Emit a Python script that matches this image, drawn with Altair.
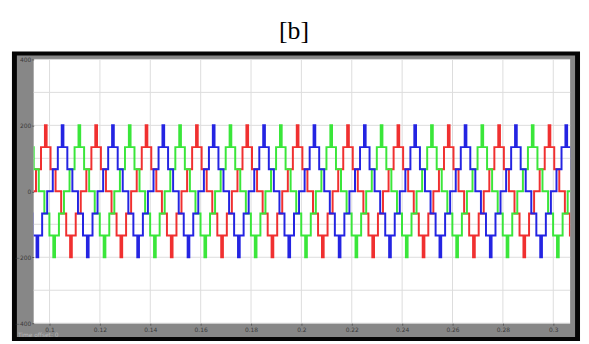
import altair as alt
import pandas as pd

# ---- values ----
TITLE = "[b]"
X_TICKS = [0.1, 0.12, 0.14, 0.16, 0.18, 0.2, 0.22, 0.24, 0.26, 0.28, 0.3]
Y_TICKS = [-400, -300, -200, -100, 0, 100, 200, 300, 400]
X_DOMAIN = [0.0937, 0.3067]
Y_DOMAIN = [-400, 400]

PERIOD = 0.02  # one cycle per x tick interval
# one cycle of the stepped (multilevel) waveform: switching angle (deg) and level after it
STEP_ANGLES = [0, 20, 56, 84, 96, 124, 160, 200, 236, 264, 276, 304, 340]
STEP_LEVELS = [0, 67, 134, 200, 134, 67, 0, -67, -134, -200, -134, -67, 0]

PHASES = ["Phase A", "Phase B", "Phase C"]
PHASE_START = [0.0935, 0.10017, 0.10683]  # rising zero crossing of each phase
PHASE_COLORS = ["#f03030", "#2424e2", "#3ae63a"]
DRAW_ORDER = [0, 2, 1]

CYCLES = list(range(-2, 13))

rows = []
for p_idx in DRAW_ORDER:
    for k in CYCLES:
        for ang, lev in zip(STEP_ANGLES, STEP_LEVELS):
            t = PHASE_START[p_idx] + (k + ang / 360.0) * PERIOD
            if X_DOMAIN[0] - PERIOD <= t <= X_DOMAIN[1] + PERIOD:
                rows.append({"phase": PHASES[p_idx], "t": t, "v": lev})
wave = pd.DataFrame(rows)

W, H = 543, 267
one = pd.DataFrame({"k": [0]})

title_mark = alt.Chart(one).mark_text(
    text=TITLE, font="Liberation Serif", fontSize=26, color="black",
    align="center", baseline="alphabetic").encode(x=alt.value(W / 2 - 8), y=alt.value(-21))
black = alt.Chart(one).mark_rect(color="#050505").encode(
    x=alt.value(-22), x2=alt.value(W + 10), y=alt.value(-8), y2=alt.value(H + 18))
gray = alt.Chart(one).mark_rect(color="#878787").encode(
    x=alt.value(-17), x2=alt.value(W + 5), y=alt.value(-4), y2=alt.value(H + 14))
white = alt.Chart(one).mark_rect(color="white").encode(
    x=alt.value(0), x2=alt.value(W), y=alt.value(0), y2=alt.value(H))
offset_txt = alt.Chart(one).mark_text(
    text="Time offset:  0", fontSize=6, color="#b8b8b8", align="left", baseline="middle",
    font="DejaVu Sans").encode(x=alt.value(-16), y=alt.value(H + 12))

xscale = alt.Scale(domain=X_DOMAIN, nice=False, zero=False)
yscale = alt.Scale(domain=Y_DOMAIN, nice=False, zero=False)

xgrid = alt.Chart(pd.DataFrame({"t": X_TICKS})).mark_rule(color="#dcdcdc", strokeWidth=1).encode(
    x=alt.X("t:Q", scale=xscale))
ygrid = alt.Chart(pd.DataFrame({"v": Y_TICKS})).mark_rule(color="#dcdcdc", strokeWidth=1).encode(
    y=alt.Y("v:Q", scale=yscale))

lines = alt.Chart(wave).mark_line(interpolate="step-after", strokeWidth=2, clip=True).encode(
    x=alt.X("t:Q", scale=xscale, title=None,
            axis=alt.Axis(values=X_TICKS, format="~g", grid=False, domain=False, ticks=True,
                          tickSize=2, tickColor="#555555", labelFontSize=6, labelColor="#3a3a3a",
                          labelFont="DejaVu Sans", labelPadding=1, zindex=1, labelFlush=False)),
    y=alt.Y("v:Q", scale=yscale, title=None,
            axis=alt.Axis(values=Y_TICKS, grid=False, domain=False, ticks=True, tickSize=2,
                          tickColor="#555555", labelFontSize=6, labelColor="#3a3a3a",
                          labelFont="DejaVu Sans", labelPadding=1, zindex=1, labelFlush=False)),
    color=alt.Color("phase:N", scale=alt.Scale(domain=PHASES, range=PHASE_COLORS), legend=None),
    order=alt.Order("t:Q"),
)

chart = alt.layer(title_mark, black, gray, white, offset_txt, xgrid, ygrid, lines).properties(
    width=W, height=H,
    autosize=alt.AutoSizeParams(type="none"),
    padding={"left": 26, "top": 50, "right": 11, "bottom": 18},
).configure_view(stroke=None).configure(background="white")

chart.save("out.html", embed_options={"renderer": "svg", "actions": False})
